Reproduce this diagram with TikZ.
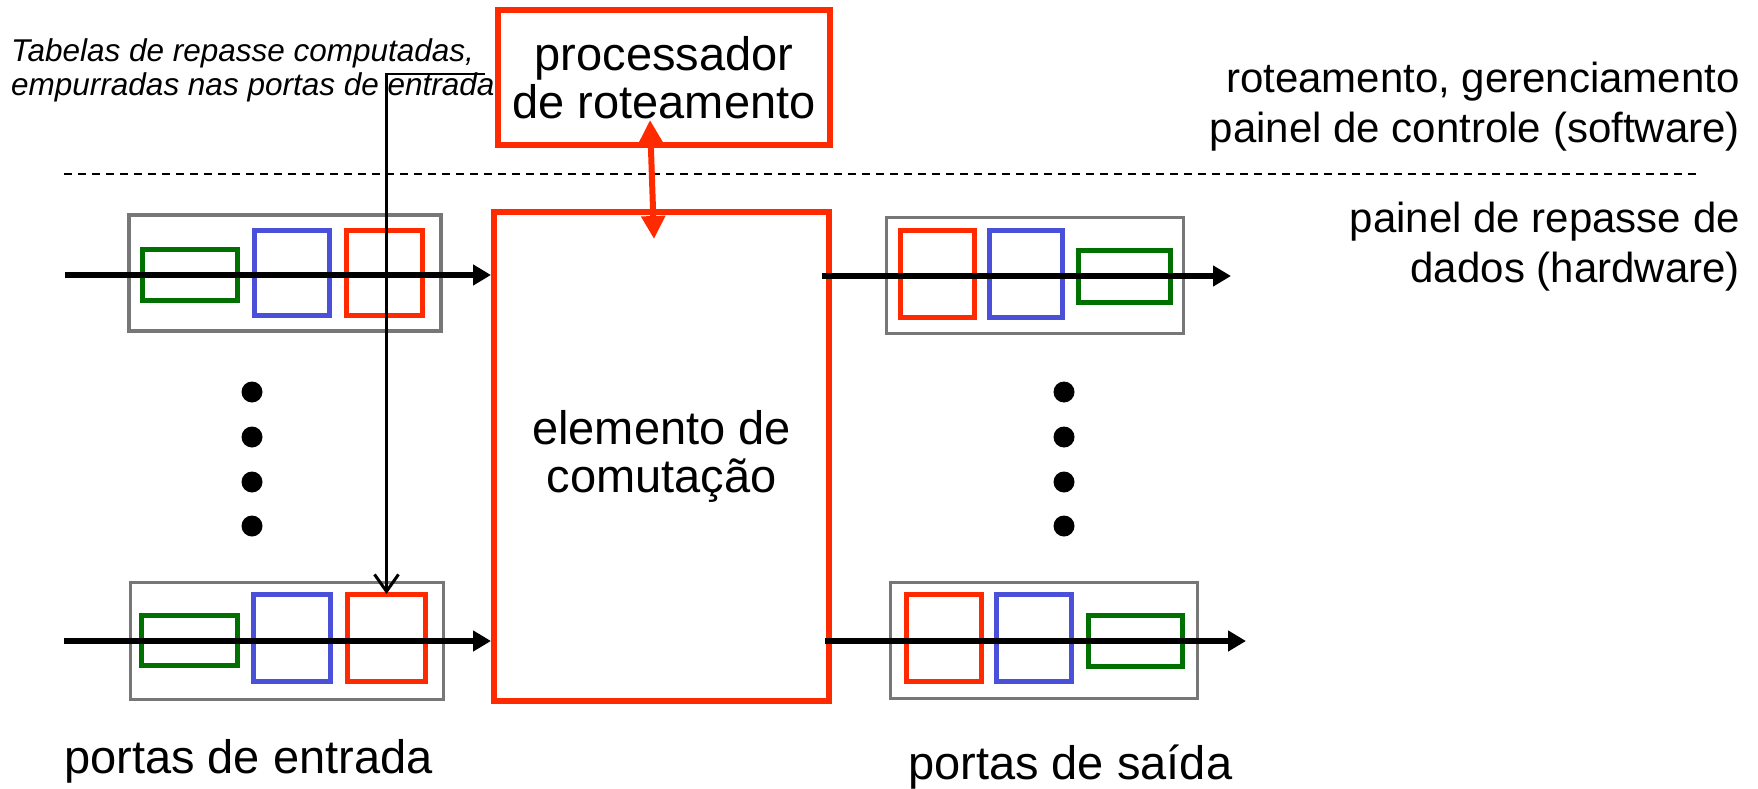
\documentclass[tikz,border=0pt]{standalone}
\usepackage{fontspec}
\setmainfont{Liberation Sans}
\usetikzlibrary{arrows.meta,calc}
\definecolor{portred}{HTML}{FF2A00}
\definecolor{portblue}{HTML}{4A50D8}
\definecolor{portgreen}{HTML}{007000}
\definecolor{portgray}{HTML}{777777}
\begin{document}
\begin{tikzpicture}[x=1pt,y=-1pt,
  bigbox/.style={draw=portred, line width=6pt, inner sep=0pt},
  portbox/.style={draw=portgray, line width=3.5pt, inner sep=0pt},
  qred/.style={draw=portred, line width=5pt, inner sep=0pt},
  qblue/.style={draw=portblue, line width=5pt, inner sep=0pt},
  qgreen/.style={draw=portgreen, line width=5pt, inner sep=0pt},
  flow/.style={line width=6pt, -{Triangle[length=18pt,width=20pt]}},
  ctl/.style={draw=portred, line width=6pt,
    {Triangle[length=23pt,width=23pt]}-{Triangle[length=23pt,width=23pt]}},
  tbl/.style={line width=2.5pt, -{Straight Barb[length=17pt,width=24pt,line width=3pt]}},
  biglabel/.style={font=\fontsize{47}{48}\selectfont, align=center, inner sep=0pt},
  sidelabel/.style={font=\fontsize{42}{50}\selectfont, align=right, inner sep=0pt, anchor=east},
  note/.style={font=\itshape\fontsize{31.5}{34}\selectfont, align=left, inner sep=0pt, anchor=west},
  dot/.style={fill=black}
]
\useasboundingbox (0,0) rectangle (1758,789);

% control plane / data plane separator
\draw[line width=2pt, dash pattern=on 8pt off 6pt] (64,174) -- (1701,174);

% routing processor and switching fabric
\node[bigbox, minimum width=332pt, minimum height=135pt, biglabel] (proc) at (664,77.5)
  {processador\\de roteamento};
\node[bigbox, minimum width=335pt, minimum height=489pt, biglabel] (fabric) at (661.5,456.5)
  {elemento de\\comutação};

% input ports
\node[portbox, minimum width=312pt, minimum height=116pt] (in1) at (285,273) {};
\node[qgreen, minimum width=95pt, minimum height=51pt] (in1g) at (190,275) {};
\node[qblue, minimum width=75pt, minimum height=85pt] (in1b) at (292,273) {};
\node[qred, minimum width=76pt, minimum height=85pt] (in1r) at (384.5,273) {};

\node[portbox, minimum width=313pt, minimum height=117pt] (in2) at (287,641) {};
\node[qgreen, minimum width=96pt, minimum height=50pt] (in2g) at (189.5,640.5) {};
\node[qblue, minimum width=77pt, minimum height=87pt] (in2b) at (292,638) {};
\node[qred, minimum width=78pt, minimum height=87pt] (in2r) at (386.5,638) {};

% output ports
\node[portbox, minimum width=297pt, minimum height=116pt] (out1) at (1035,275.5) {};
\node[qred, minimum width=74pt, minimum height=87pt] (out1r) at (937.5,274) {};
\node[qblue, minimum width=73pt, minimum height=87pt] (out1b) at (1026,274) {};
\node[qgreen, minimum width=92pt, minimum height=52pt] (out1g) at (1124.5,276.5) {};

\node[portbox, minimum width=307pt, minimum height=116pt] (out2) at (1044,640.5) {};
\node[qred, minimum width=75pt, minimum height=87pt] (out2r) at (944,638) {};
\node[qblue, minimum width=75pt, minimum height=87pt] (out2b) at (1034,638) {};
\node[qgreen, minimum width=94pt, minimum height=51pt] (out2g) at (1135.5,641) {};

% packet flow through the ports
\coordinate (in1src) at (65,275);
\coordinate (in2src) at (64,641);
\draw[flow] (in1src) -- (in1src -| fabric.west);
\draw[flow] (in2src) -- (in2src -| fabric.west);
\coordinate (out1src) at (822,276);
\coordinate (out1dst) at (1231,276);
\coordinate (out2src) at (825,641);
\coordinate (out2dst) at (1246,641);
\draw[flow] (out1src) -- (out1dst);
\draw[flow] (out2src) -- (out2dst);

% processor <-> fabric
\coordinate (ctltop) at (650,120);
\coordinate (ctlbot) at (654,239);
\draw[ctl] (ctltop) -- (ctlbot);

% ellipsis dots
\foreach \yy in {392,437,482,526} {
  \fill[dot] (252,\yy) circle[radius=10.5pt];
  \fill[dot] (1064,\yy) circle[radius=10.5pt];
}

% labels
\node[note] (tables) at (11,70)
  {Tabelas de repasse computadas,\\empurradas nas portas de entrada};
\coordinate (tblsrc) at (485,74);
\draw[tbl] (tblsrc) -| ([yshift=-2pt]in2r.north);

\node[sidelabel] (ctrlplane) at (1740,107)
  {roteamento, gerenciamento\\painel de controle (software)};
\node[sidelabel] (dataplane) at (1740,247)
  {painel de repasse de\\dados (hardware)};
\node[biglabel, anchor=west] (inlabel) at (64,761) {portas de entrada};
\node[biglabel, anchor=west] (outlabel) at (908,767) {portas de saída};
\end{tikzpicture}
\end{document}
